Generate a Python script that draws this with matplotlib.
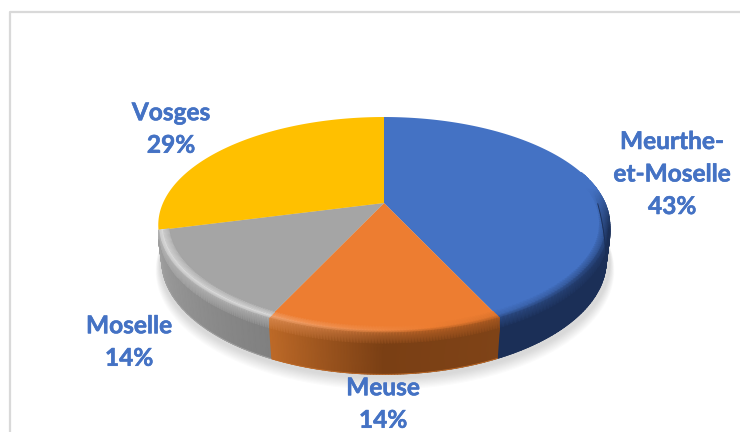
import numpy as np
import matplotlib
matplotlib.use('Agg')
import matplotlib.pyplot as plt
import matplotlib.patheffects as pe

# donnees du camembert
departements = ['Meurthe-\net-Moselle', 'Meuse', 'Moselle', 'Vosges']
pourcentages = [43, 14, 14, 29]
couleurs = ['#4472C4', '#ED7D31', '#A5A5A5', '#FFC000']


# projection du disque (perspective) vers les pixels
def proj(theta, r=1.0, dy=0.0, cx=384, cy=203, a=221, b=103.5, k=0.2037):
    s, c = np.sin(theta), np.cos(theta)
    d = 1 + k * c * r
    return cx + a * r * s / d, cy - b * r * c / d + dy / d


def rgb(c):
    return np.array(matplotlib.colors.to_rgb(c))


def melange(c1, c2, t):
    return c1 * (1 - t) + c2 * t


# couleur du cote selon l'angle
def couleur_cote(i, t, lim):
    u = (t - lim[i]) / (lim[i + 1] - lim[i])
    if i == 0:
        return rgb('#1B2F57')
    if i == 1:
        # u=0 a droite, u=1 a gauche
        if u < 0.5:
            return melange(rgb('#7F4317'), rgb('#7A3F14'), u * 2)
        return melange(rgb('#7A3F14'), rgb('#BE6A28'), (u - 0.5) * 2)
    return melange(rgb('#808080'), rgb('#A0A0A0'), u)


fig = plt.figure(figsize=(7.4, 4.32), dpi=100)
ax = fig.add_axes([0, 0, 1, 1])
ax.set_xlim(0, 740)
ax.set_ylim(432, 0)
ax.axis('off')

# cadre
ax.plot([10, 10, 740], [432, 12, 12], color='#D9D9D9', lw=1.6, zorder=1)

limites = np.deg2rad(np.cumsum([0] + pourcentages) * 3.6)
tout = np.linspace(0, 2 * np.pi, 300)

# ombre douce
for i in range(10):
    e = 10 - i
    x, y = proj(tout, r=0.995 + e * 0.002, dy=36 + e * 0.7)
    ax.fill(x + 1, y, color='#808080', alpha=0.03, lw=0, zorder=2)

# faces
for i in range(4):
    th = np.linspace(limites[i], limites[i + 1], 120)
    x, y = proj(th)
    ax.fill(np.r_[384, x], np.r_[203, y], color=couleurs[i], lw=0, zorder=3)

# cotes et biseau : maillage r / profondeur avec degrade
rayons = [0.955, 0.985, 1.0, 1.0, 0.985]
profondeurs = [0, 0, 0, 9, 35]
eclat = [0, 0.4, 0.8]
for i in range(3):
    debut = max(limites[i], np.deg2rad(72))
    th = np.linspace(debut, limites[i + 1], 80)
    X = np.zeros((len(rayons), len(th)))
    Y = np.zeros_like(X)
    C = np.zeros((len(rayons), len(th), 3))
    haut = rgb(couleurs[i])
    for n, t in enumerate(th):
        cote = couleur_cote(i, t, limites)
        force = np.clip((0.15 - np.cos(t)) / 0.3, 0, 1)
        lum = np.clip((np.rad2deg(t) - 170) / 45, -1, 1)
        if lum > 0:
            bord = melange(haut, rgb('#FFFFFF'), eclat[i] * min(lum, 0.8))
        else:
            bord = melange(haut, cote, 0.6 * -lum)
        for m, (r, dy) in enumerate(zip(rayons, profondeurs)):
            X[m, n], Y[m, n] = proj(t, r=r, dy=dy * force)
        C[0, n] = haut
        C[1, n] = melange(haut, bord, force)
        C[2, n] = melange(haut, melange(bord, cote, 0.5), force)
        C[3, n] = melange(haut, cote, force)
        C[4, n] = melange(haut, cote, force)
    ax.pcolormesh(X, Y, C, shading='gouraud', zorder=4)
    # contour lisse du bas
    ax.plot(X[-1][th > np.deg2rad(85)], Y[-1][th > np.deg2rad(85)], color=tuple(C[-1, -1]), lw=0.6, zorder=4)

# etiquettes
pos_etiq = [(672, 174), (383, 404), (129, 342), (171, 129)]
for nom, p, (xe, ye) in zip(departements, pourcentages, pos_etiq):
    ax.text(xe, ye, nom + '\n' + str(p) + '%', color='#4472C4', fontsize=17.6, fontweight='bold',
            family='Lato', ha='center', va='center', linespacing=1.5, zorder=6,
            path_effects=[pe.withStroke(linewidth=0.4, foreground='#4472C4')])

plt.savefig('out.png', dpi=100)
